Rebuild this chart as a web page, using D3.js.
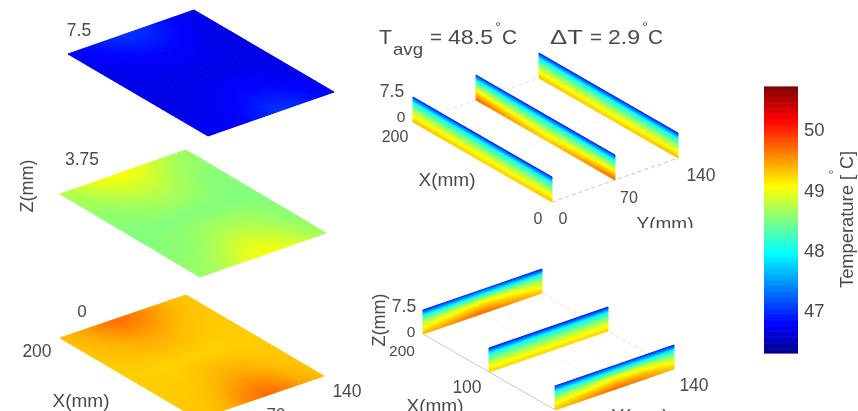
<!DOCTYPE html>
<html><head><meta charset="utf-8">
<script src="https://cdn.jsdelivr.net/npm/d3@7"></script>
<style>html,body{margin:0;padding:0;background:#fff}svg{display:block;filter:blur(.6px)}text{font-family:"Liberation Sans",Arial,sans-serif;fill:#4a4a4a}</style>
</head><body><div id="chart"></div>
<script>
// ---- data (temperature, deg C) ----
const planeX = [0, 50, 100, 150, 200];
const planeY = [0, 20, 40, 60, 80, 100, 120, 140];
const layerZ7_5 = [
  [46.72, 46.74, 46.78, 46.90, 47.02, 46.98, 46.84, 46.76],
  [46.70, 46.70, 46.72, 46.76, 46.80, 46.78, 46.74, 46.70],
  [46.68, 46.68, 46.68, 46.68, 46.68, 46.68, 46.68, 46.68],
  [46.70, 46.72, 46.74, 46.78, 46.78, 46.74, 46.70, 46.68],
  [46.74, 46.82, 46.92, 47.02, 47.00, 46.88, 46.76, 46.70]];
const layerZ3_75 = [
  [48.62, 48.68, 48.82, 49.00, 49.05, 48.95, 48.78, 48.64],
  [48.55, 48.56, 48.62, 48.72, 48.76, 48.72, 48.62, 48.56],
  [48.52, 48.52, 48.52, 48.52, 48.52, 48.52, 48.52, 48.52],
  [48.58, 48.62, 48.68, 48.74, 48.72, 48.64, 48.56, 48.54],
  [48.70, 48.82, 48.98, 49.05, 49.02, 48.86, 48.70, 48.62]];
const layerZ0 = [
  [49.30, 49.32, 49.42, 49.62, 49.72, 49.62, 49.44, 49.34],
  [49.28, 49.29, 49.30, 49.38, 49.44, 49.40, 49.32, 49.30],
  [49.27, 49.26, 49.25, 49.25, 49.25, 49.25, 49.26, 49.28],
  [49.30, 49.33, 49.38, 49.42, 49.40, 49.34, 49.30, 49.28],
  [49.34, 49.42, 49.58, 49.70, 49.64, 49.50, 49.36, 49.30]];
const wallZ = [7.5, 5.625, 3.75, 1.875, 0];
const wallX = [0, 50, 100, 150, 200];
const wallY = [0, 35, 70, 105, 140];
const wallAtY0 = [
  [46.85, 46.85, 46.85, 46.85, 46.85],
  [48.00, 48.00, 48.00, 48.00, 48.00],
  [48.55, 48.55, 48.52, 48.55, 48.58],
  [49.00, 48.98, 48.98, 48.98, 49.00],
  [49.32, 49.28, 49.26, 49.29, 49.34]];
const wallAtY70 = [
  [46.88, 46.85, 46.82, 46.85, 46.92],
  [48.02, 48.00, 47.98, 48.00, 48.04],
  [48.70, 48.62, 48.52, 48.62, 48.72],
  [49.26, 49.12, 49.00, 49.12, 49.28],
  [49.72, 49.50, 49.28, 49.48, 49.74]];
const wallAtY140 = [
  [46.84, 46.84, 46.84, 46.84, 46.84],
  [47.98, 47.98, 47.98, 47.98, 47.98],
  [48.55, 48.54, 48.52, 48.54, 48.56],
  [49.00, 48.98, 48.98, 48.98, 49.00],
  [49.36, 49.32, 49.28, 49.30, 49.33]];
const wallAtX0 = [
  [46.85, 46.88, 46.95, 46.90, 46.84],
  [48.00, 48.02, 48.06, 48.04, 47.98],
  [48.60, 48.76, 48.98, 48.90, 48.62],
  [49.02, 49.18, 49.34, 49.28, 49.04],
  [49.30, 49.50, 49.72, 49.60, 49.34]];
const wallAtX100 = [
  [46.82, 46.80, 46.80, 46.80, 46.82],
  [47.98, 47.98, 47.98, 47.98, 47.98],
  [48.52, 48.52, 48.52, 48.52, 48.52],
  [48.96, 48.96, 48.96, 48.96, 48.96],
  [49.24, 49.24, 49.24, 49.24, 49.26]];
const wallAtX200 = [
  [46.85, 46.90, 47.00, 46.92, 46.82],
  [48.00, 48.02, 48.08, 48.04, 47.98],
  [48.65, 48.85, 49.02, 48.88, 48.62],
  [49.04, 49.22, 49.36, 49.22, 49.02],
  [49.34, 49.54, 49.72, 49.54, 49.32]];
const colorTicks = [47, 48, 49, 50];
const tempDomain = [46.3, 50.71];
const jetStops = ["#00008f", "#0000ff", "#00ffff", "#ffff00", "#ff0000", "#800000"];
const jetAt = [0, 0.11, 0.375, 0.625, 0.875, 1];

// ---- page ----
const W = 858, H = 411;
const svg = d3.select("#chart").append("svg").attr("width", W).attr("height", H);
const jetPos = d3.scaleLinear().domain(tempDomain).range([0, 1]);
const jet = d3.scaleLinear().domain(jetAt).range(jetStops).interpolate(d3.interpolateRgb).clamp(true);
const color = t => jet(jetPos(t));

// affine 3D -> 2D projection made of linear scales
function projection(o, ex, ey, ez, xMax, yMax, zMax) {
  const xh = d3.scaleLinear([0, xMax], [0, ex[0]]), xv = d3.scaleLinear([0, xMax], [0, ex[1]]);
  const yh = d3.scaleLinear([0, yMax], [0, ey[0]]), yv = d3.scaleLinear([0, yMax], [0, ey[1]]);
  const zv = d3.scaleLinear([0, zMax], [0, ez]);
  return (x, y, z) => [o[0] + xh(x) + yh(y), o[1] + xv(x) + yv(y) + zv(z)];
}
// bilinear colour shading of a value matrix for smooth rendering
function shade(g, rows, cols, matrix, corner, sub) {
  const rs = d3.scaleLinear().domain(rows).range(rows.map((d, i) => i)).clamp(true);
  const cs = d3.scaleLinear().domain(cols).range(cols.map((d, i) => i)).clamp(true);
  const val = (r, c) => {
    const a = rs(r), b = cs(c);
    const i = Math.min(Math.floor(a), rows.length - 2), j = Math.min(Math.floor(b), cols.length - 2);
    const u = a - i, v = b - j;
    return d3.interpolateNumber(
      d3.interpolateNumber(matrix[i][j], matrix[i][j + 1])(v),
      d3.interpolateNumber(matrix[i + 1][j], matrix[i + 1][j + 1])(v))(u);
  };
  const rEdges = d3.range(sub[0] + 1).map(i => d3.interpolateNumber(rows[0], rows[rows.length - 1])(i / sub[0]));
  const cEdges = d3.range(sub[1] + 1).map(i => d3.interpolateNumber(cols[0], cols[cols.length - 1])(i / sub[1]));
  const cells = d3.cross(d3.range(sub[0]), d3.range(sub[1]));
  g.selectAll("polygon").data(cells).join("polygon")
    .attr("points", ([i, j]) => [[i, j], [i + 1, j], [i + 1, j + 1], [i, j + 1]]
      .map(([a, b]) => corner(rEdges[a], cEdges[b]).join(",")).join(" "))
    .each(function ([i, j]) {
      const c = color(val((rEdges[i] + rEdges[i + 1]) / 2, (cEdges[j] + cEdges[j + 1]) / 2));
      d3.select(this).attr("fill", c).attr("stroke", c).attr("stroke-width", 1);
    });
}
function label(txt, x, y, size, rot, anchor, len) {
  const t = svg.append("text").attr("x", x).attr("y", y).attr("font-size", size)
    .attr("text-anchor", anchor || "middle").text(txt);
  if (rot) t.attr("transform", `rotate(${rot} ${x} ${y})`);
  if (len) t.attr("textLength", len).attr("lengthAdjust", "spacingAndGlyphs");
  return t;
}
function guide(p, a, b, dash, col) {
  svg.append("line").datum([p(...a), p(...b)])
    .attr("x1", d => d[0][0]).attr("y1", d => d[0][1]).attr("x2", d => d[1][0]).attr("y2", d => d[1][1])
    .attr("stroke", col).attr("stroke-width", 1).attr("stroke-dasharray", dash);
}

// three stacked planes
const planes = [
  {m: layerZ7_5, o: [208, 136], ex: [-140, -82], ey: [126, -44]},
  {m: layerZ3_75, o: [200, 277], ex: [-140, -83], ey: [126, -44]},
  {m: layerZ0, o: [198, 419], ex: [-138, -81], ey: [126, -43]}];
planes.forEach(pl => {
  const p = projection(pl.o, pl.ex, pl.ey, 0, 200, 140, 7.5);
  shade(svg.append("g"), planeX, planeY, pl.m, (x, y) => p(x, y, 0), [30, 42]);
});

// walls, constant Y
const pY = projection([552, 202], [-139, -80], [126, -44], -25, 200, 140, 7.5);
guide(pY, [0, 0, 0], [0, 140, 0], "4 3", "#c4c4c4");
guide(pY, [200, 0, 0], [200, 140, 0], "4 3", "#e6e6e6");
guide(pY, [100, 0, 0], [100, 140, 0], "4 3", "#f0f0f0");
[[0, wallAtY0], [70, wallAtY70], [140, wallAtY140]].forEach(([y, m]) =>
  shade(svg.append("g"), wallZ, wallX, m, (z, x) => pY(x, y, z), [22, 30]));

// walls, constant X
const pX = projection([555, 410], [-132, -76], [119, -41], -24, 200, 140, 7.5);
guide(pX, [0, 0, 0], [200, 0, 0], null, "#c8c8c8");
guide(pX, [0, 140, 0], [200, 140, 0], "4 3", "#e2e2e2");
guide(pX, [0, 70, 0], [200, 70, 0], "4 3", "#efefef");
[[200, wallAtX200], [100, wallAtX100], [0, wallAtX0]].forEach(([x, m]) =>
  shade(svg.append("g"), wallZ, wallY, m, (z, y) => pX(x, y, z), [22, 30]));

// colour bar
const barY = d3.scaleLinear().domain(tempDomain).range([353, 87]);
svg.append("g").selectAll("rect").data(d3.range(tempDomain[0], tempDomain[1], 0.02)).join("rect")
  .attr("x", 764).attr("width", 34).attr("y", d => barY(d + 0.02)).attr("height", d => barY(d) - barY(d + 0.02) + 0.6)
  .attr("fill", d => color(d));
const ax = svg.append("g").attr("transform", "translate(798,0)")
  .call(d3.axisRight(barY).tickValues(colorTicks).tickSize(0).tickPadding(6).tickFormat(d3.format("d")));
ax.select(".domain").remove();
ax.selectAll("text").attr("font-size", 18.5).attr("font-family", null);
label("Temperature [", 853, 288, 18, -90, "start", 113);
label("°", 838, 172, 12, -90);
label("C]", 853, 169, 18, -90, "start", 18);

// left panel labels
label("7.5", 79, 36, 17.5); label("3.75", 82, 165, 17.5); label("0", 82, 317, 17);
label("200", 37, 357, 17.5); label("140", 347, 397, 17.5);
label("X(mm)", 81, 407, 19); label("70", 276, 420, 17);
label("Z(mm)", 33, 186, 18, -90);

// header
const hs = 21;
label("T", 379, 44, hs, 0, "start", 13); label("avg", 393, 55, 16, 0, "start", 30);
label("=", 430, 44, hs, 0, "start", 12); label("48.5", 448, 44, hs, 0, "start", 45);
label("°", 498, 32, 14); label("C", 502, 44, hs, 0, "start", 15);
label("\u0394T", 550, 44, hs, 0, "start", 33); label("=", 590, 44, hs, 0, "start", 12);
label("2.9", 608, 44, hs, 0, "start", 32); label("°", 645, 32, 14); label("C", 648, 44, hs, 0, "start", 15);

// upper right labels
label("7.5", 392, 97, 17.5); label("0", 401, 122, 15.5); label("200", 395, 142, 16);
label("X(mm)", 447, 186, 19);
label("0", 538, 224, 16); label("0", 563, 224, 16); label("70", 629, 203, 16); label("140", 701, 181, 17.5);
svg.append("clipPath").attr("id", "yclip").append("rect").attr("x", 620).attr("y", 200).attr("width", 100).attr("height", 28);
label("Y(mm)", 665, 230, 19).attr("clip-path", "url(#yclip)");

// lower right labels
label("7.5", 404, 312, 17.5); label("0", 411, 337, 15.5); label("200", 402, 356, 15.5);
label("Z(mm)", 385, 320, 18, -90);
label("100", 467, 393, 17.5); label("140", 694, 391, 17.5);
label("X(mm)", 435, 412, 19); label("Y(mm)", 640, 422, 19);
</script></body></html>
